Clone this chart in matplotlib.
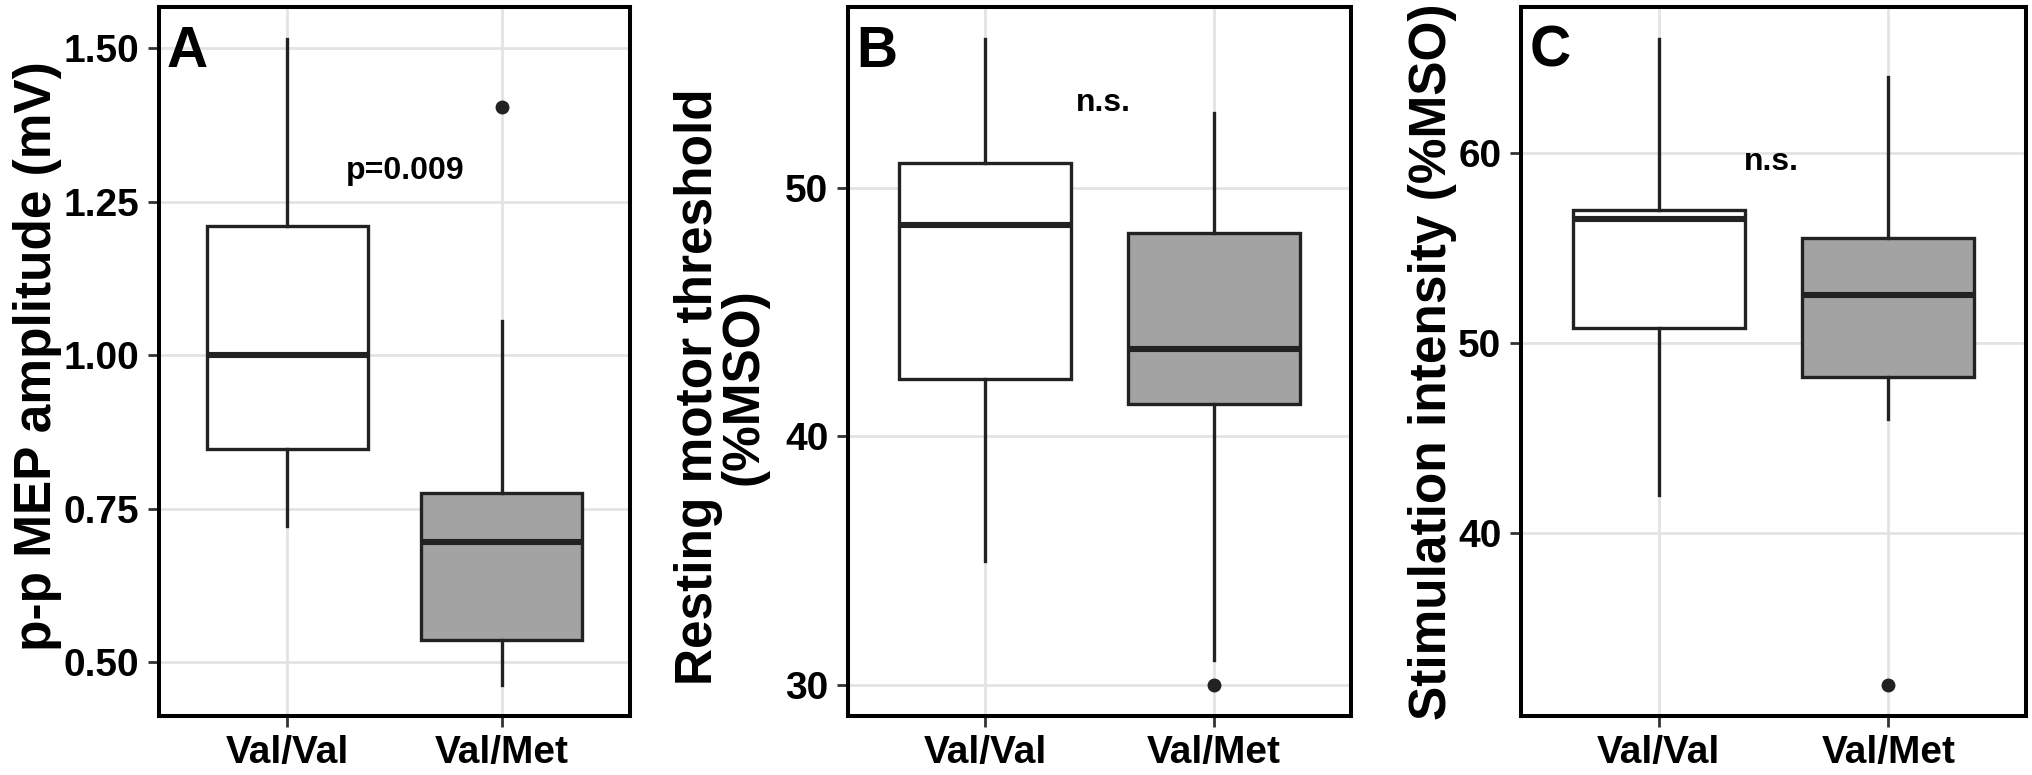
import matplotlib
matplotlib.use("Agg")
import matplotlib.pyplot as plt

plt.rcParams['font.family'] = ['Liberation Sans', 'DejaVu Sans']
plt.rcParams['font.weight'] = 'bold'

groups = ["Val/Val", "Val/Met"]
box_colors = ["#FFFFFF", "#A3A3A3"]

# panel A: p-p MEP amplitude (mV)
a_whislo = [0.722, 0.463]
a_q1 = [0.847, 0.536]
a_med = [1.000, 0.695]
a_q3 = [1.211, 0.775]
a_whishi = [1.515, 1.056]
a_fliers = [[], [1.404]]

# panel B: resting motor threshold (%MSO)
b_whislo = [35.0, 31.0]
b_q1 = [42.3, 41.3]
b_med = [48.5, 43.5]
b_q3 = [51.0, 48.2]
b_whishi = [56.0, 53.0]
b_fliers = [[], [30.0]]

# panel C: stimulation intensity (%MSO)
c_whislo = [42.0, 46.0]
c_q1 = [50.8, 48.2]
c_med = [56.5, 52.5]
c_q3 = [57.0, 55.5]
c_whishi = [66.0, 64.0]
c_fliers = [[], [32.0]]

panels = [
    dict(letter="A", lo=a_whislo, q1=a_q1, med=a_med, q3=a_q3, hi=a_whishi, fl=a_fliers,
         ylim=(0.412, 1.567), yticks=[0.50, 0.75, 1.00, 1.25, 1.50], fmt="{:.2f}",
         ylabel="p-p MEP amplitude (mV)", lab_xy=(-0.206, 0.508),
         note="p=0.009", note_xy=(1.55, 1.30)),
    dict(letter="B", lo=b_whislo, q1=b_q1, med=b_med, q3=b_q3, hi=b_whishi, fl=b_fliers,
         ylim=(28.75, 57.28), yticks=[30, 40, 50], fmt="{:d}",
         ylabel="Resting motor threshold\n(%MSO)", lab_xy=(-0.159, 0.465),
         note="n.s.", note_xy=(1.515, 53.4)),
    dict(letter="C", lo=c_whislo, q1=c_q1, med=c_med, q3=c_q3, hi=c_whishi, fl=c_fliers,
         ylim=(30.37, 67.68), yticks=[40, 50, 60], fmt="{:d}",
         ylabel="Stimulation intensity (%MSO)", lab_xy=(-0.127, 0.5),
         note="n.s.", note_xy=(1.49, 59.5)),
]

W, H = 2033, 775
boxes_px = [(159, 630), (848, 1351), (1521, 2026)]
top_px, bot_px = 7, 716

fig = plt.figure(figsize=(W / 100, H / 100), dpi=100)
edge = "#222222"

for p, (l, r) in zip(panels, boxes_px):
    ax = fig.add_axes([l / W, 1 - bot_px / H, (r - l) / W, (bot_px - top_px) / H])
    stats = []
    for i in range(2):
        stats.append(dict(med=p["med"][i], q1=p["q1"][i], q3=p["q3"][i],
                          whislo=p["lo"][i], whishi=p["hi"][i], fliers=p["fl"][i]))
    bp = ax.bxp(stats, positions=[1, 2], widths=0.75, patch_artist=True, showcaps=False,
                boxprops=dict(edgecolor=edge, linewidth=2.4),
                whiskerprops=dict(color=edge, linewidth=2.4),
                medianprops=dict(color=edge, linewidth=4.4, solid_capstyle='butt'),
                flierprops=dict(marker='o', markerfacecolor=edge, markeredgecolor=edge,
                                markersize=9),
                zorder=3)
    for patch, c in zip(bp['boxes'], box_colors):
        patch.set_facecolor(c)

    ax.set_xlim(0.4, 2.6)
    ax.set_ylim(*p["ylim"])
    ax.set_xticks([1, 2])
    ax.set_xticklabels(groups)
    ax.set_yticks(p["yticks"])
    ax.set_yticklabels([p["fmt"].format(v) for v in p["yticks"]])
    ax.grid(True, color="#E3E3E3", linewidth=2.0, zorder=0)
    ax.set_axisbelow(True)
    for s in ax.spines.values():
        s.set_linewidth(2.9)
        s.set_color("black")
    ax.tick_params(axis='both', length=8, width=2.0, color="#333333",
                   labelsize=28, labelcolor="black", pad=6)
    for t in ax.get_xticklabels() + ax.get_yticklabels():
        t.set_fontweight('bold')

    ax.set_ylabel(p["ylabel"], fontsize=37, fontweight='bold', linespacing=0.9)
    ax.yaxis.set_label_coords(*p["lab_xy"])

    ax.text(0.017, 0.975, p["letter"], transform=ax.transAxes, fontsize=41,
            fontweight='bold', ha='left', va='top')
    ax.text(p["note_xy"][0], p["note_xy"][1], p["note"], fontsize=23,
            fontweight='bold', ha='center', va='center')

fig.savefig("out.png", dpi=100)
